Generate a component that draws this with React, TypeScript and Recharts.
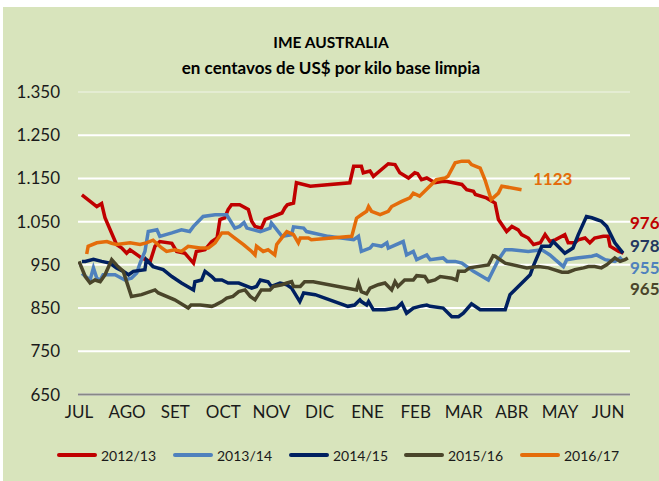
import React from 'react';
import { LineChart, Line, XAxis, YAxis, CartesianGrid, ReferenceLine } from 'recharts';

const MONTHS = ['JUL', 'AGO', 'SET', 'OCT', 'NOV', 'DIC', 'ENE', 'FEB', 'MAR', 'ABR', 'MAY', 'JUN'];
const MONTH_TICKS = [0, 1, 2, 3, 4, 5, 6, 7, 8, 9, 10, 11];
const Y_TICKS = [650, 750, 850, 950, 1050, 1150, 1250, 1350];

// [month position, value]
const S_2012_13: [number, number][] = [
  [0.06, 1112], [0.37, 1085], [0.47, 1092], [0.54, 1059], [0.78, 997], [0.89, 989], [0.99, 977], [1.06, 985],
  [1.3, 966], [1.48, 958], [1.58, 993], [1.68, 1004], [1.93, 1000], [2.03, 981], [2.2, 977], [2.38, 954],
  [2.44, 981], [2.62, 985], [2.76, 1004], [2.87, 1012], [2.93, 1055], [3.03, 1059], [3.1, 1078], [3.17, 1089],
  [3.34, 1089], [3.52, 1078], [3.59, 1051], [3.66, 1039], [3.79, 1035], [3.87, 1055], [4.04, 1062], [4.22, 1070],
  [4.28, 1082], [4.33, 1089], [4.46, 1093], [4.52, 1140], [4.81, 1132], [5.63, 1140], [5.71, 1178], [5.87, 1178],
  [5.91, 1163], [6.05, 1167], [6.12, 1155], [6.43, 1184], [6.57, 1182], [6.67, 1163], [6.85, 1151], [6.98, 1163],
  [7.04, 1161], [7.12, 1147], [7.23, 1151], [7.4, 1140], [7.54, 1143], [7.65, 1143], [7.78, 1140], [7.96, 1136],
  [8.06, 1124], [8.2, 1120], [8.24, 1113], [8.47, 1105], [8.65, 1093], [8.72, 1055], [8.89, 1027], [9.0, 1039],
  [9.13, 1031], [9.2, 1020], [9.34, 1012], [9.45, 997], [9.59, 1001], [9.69, 1020], [9.79, 1004], [9.9, 1008],
  [10.1, 1020], [10.17, 1001], [10.31, 1001], [10.38, 1008], [10.52, 1012], [10.62, 1001], [10.72, 1012],
  [10.9, 1016], [11.0, 1016], [11.04, 993], [11.22, 981], [11.32, 977],
];

const S_2013_14: [number, number][] = [
  [0.06, 930], [0.23, 915], [0.3, 943], [0.37, 919], [0.44, 915], [0.5, 927], [0.75, 927], [0.95, 915],
  [1.09, 919], [1.2, 931], [1.27, 954], [1.37, 981], [1.44, 1027], [1.62, 1031], [1.68, 1016], [1.93, 1024],
  [2.13, 1031], [2.3, 1027], [2.38, 1039], [2.58, 1062], [2.83, 1066], [3.07, 1066], [3.24, 1035], [3.34, 1039],
  [3.43, 1048], [3.49, 1035], [3.77, 1027], [3.97, 1035], [4.0, 1047], [4.22, 1016], [4.42, 1020], [4.46, 1038],
  [4.67, 1035], [4.73, 1027], [5.18, 1016], [5.71, 1008], [5.81, 1016], [5.87, 981], [6.05, 989], [6.11, 997],
  [6.29, 993], [6.4, 1001], [6.43, 989], [6.74, 1004], [6.81, 973], [6.95, 981], [7.02, 962], [7.23, 973],
  [7.3, 962], [7.57, 966], [7.65, 958], [7.82, 958], [7.96, 954], [8.2, 935], [8.51, 915], [8.72, 962],
  [8.86, 985], [9.0, 985], [9.34, 981], [9.62, 985], [9.79, 973], [9.9, 962], [10.07, 946], [10.14, 962],
  [10.35, 966], [10.66, 970], [10.76, 973], [10.94, 962], [11.14, 958], [11.25, 966], [11.31, 958],
];

const S_2014_15: [number, number][] = [
  [0.06, 958], [0.13, 958], [0.3, 963], [0.47, 958], [0.64, 954], [0.78, 943], [0.92, 935], [1.03, 927],
  [1.13, 935], [1.37, 939], [1.4, 962], [1.54, 946], [1.75, 939], [1.93, 923], [2.13, 908], [2.38, 892],
  [2.41, 911], [2.55, 915], [2.62, 935], [2.76, 923], [2.83, 915], [2.97, 915], [3.1, 908], [3.32, 908],
  [3.59, 896], [3.69, 900], [3.77, 915], [3.93, 911], [4.0, 900], [4.18, 908], [4.32, 904], [4.42, 896],
  [4.59, 865], [4.67, 885], [4.91, 881], [5.59, 854], [5.73, 857], [5.84, 869], [5.87, 865], [5.98, 857],
  [6.02, 865], [6.12, 846], [6.36, 846], [6.61, 850], [6.71, 861], [6.81, 838], [6.95, 850], [7.12, 855],
  [7.23, 857], [7.3, 854], [7.57, 850], [7.75, 830], [7.89, 830], [7.99, 838], [8.16, 860], [8.34, 846],
  [8.86, 846], [8.96, 881], [9.38, 927], [9.44, 946], [9.62, 993], [9.79, 993], [9.86, 1004], [10.1, 977],
  [10.27, 989], [10.38, 1020], [10.55, 1062], [10.66, 1059], [10.76, 1055], [10.86, 1051], [10.97, 1039],
  [11.14, 1001], [11.31, 977],
];

const S_2015_16: [number, number][] = [
  [0.0, 958], [0.13, 923], [0.23, 908], [0.33, 915], [0.44, 911], [0.54, 927], [0.68, 962], [0.81, 946],
  [0.92, 935], [1.09, 877], [1.3, 881], [1.58, 892], [1.65, 885], [1.99, 869], [2.27, 850], [2.33, 857],
  [2.52, 857], [2.76, 854], [2.83, 857], [2.97, 865], [3.07, 873], [3.2, 877], [3.32, 888], [3.45, 892],
  [3.56, 877], [3.66, 869], [3.79, 892], [3.97, 892], [4.04, 900], [4.22, 904], [4.32, 908], [4.42, 911],
  [4.46, 900], [4.6, 900], [4.69, 911], [4.87, 911], [5.77, 892], [5.81, 908], [5.87, 888], [5.98, 883],
  [6.05, 896], [6.22, 904], [6.36, 908], [6.5, 892], [6.57, 911], [6.63, 900], [6.77, 915], [6.95, 915],
  [7.02, 925], [7.19, 923], [7.26, 911], [7.4, 915], [7.51, 923], [7.75, 919], [7.85, 915], [7.89, 935],
  [8.02, 935], [8.12, 943], [8.51, 950], [8.61, 971], [8.65, 970], [8.86, 954], [9.31, 943], [9.55, 946],
  [9.76, 943], [10.04, 933], [10.17, 933], [10.31, 939], [10.49, 943], [10.59, 946], [10.72, 946],
  [10.86, 943], [10.97, 950], [11.14, 966], [11.25, 958], [11.35, 962], [11.41, 966],
];

const S_2016_17: [number, number][] = [
  [0.16, 975], [0.19, 993], [0.37, 1001], [0.58, 1004], [0.68, 1000], [0.78, 997], [1.06, 1001], [1.27, 997],
  [1.4, 1001], [1.54, 1007], [1.72, 989], [1.82, 981], [1.99, 985], [2.13, 981], [2.27, 993], [2.52, 989],
  [2.69, 989], [2.83, 1001], [2.97, 1024], [3.1, 1024], [3.24, 1012], [3.42, 997], [3.59, 981], [3.66, 973],
  [3.69, 993], [3.83, 981], [3.93, 985], [4.07, 973], [4.11, 997], [4.24, 1016], [4.32, 1027], [4.46, 1020],
  [4.56, 1001], [4.6, 1012], [4.77, 1012], [4.83, 1008], [5.67, 1016], [5.77, 1058], [5.87, 1066], [5.98, 1074],
  [6.02, 1085], [6.08, 1074], [6.26, 1066], [6.43, 1074], [6.5, 1085], [6.71, 1097], [6.88, 1105], [6.95, 1116],
  [7.08, 1109], [7.43, 1147], [7.61, 1151], [7.67, 1155], [7.82, 1186], [7.96, 1190], [8.1, 1190], [8.16, 1182],
  [8.34, 1174], [8.44, 1147], [8.57, 1101], [8.72, 1116], [8.79, 1132], [9.2, 1124],
];

const SERIES_NAMES = ['2012/13', '2013/14', '2014/15', '2015/16', '2016/17'];
const SERIES_COLORS = ['#c00000', '#4f81bd', '#002060', '#4a452a', '#e46c0a'];
const SERIES_DATA = [S_2012_13, S_2013_14, S_2014_15, S_2015_16, S_2016_17];

const END_LABELS = ['976', '955', '978', '965', '1123'];
const END_LABEL_COLORS = ['#c00000', '#4f81bd', '#24375f', '#4a452a', '#e46c0a'];
const END_LABEL_POS = [
  { left: 627, top: 216 },
  { left: 627, top: 260.5 },
  { left: 627, top: 239 },
  { left: 627, top: 282 },
  { left: 530, top: 172 },
];

const LEGEND_LEFT = [54, 170, 286, 401, 517];

const fmtY = (v: number) => (v >= 1000 ? `${Math.floor(v / 1000)}.${String(v % 1000).padStart(3, '0')}` : String(v));

export default function App() {
  const font = 'Lato, "Open Sans", sans-serif';
  return (
    <div
      style={{
        position: 'absolute',
        left: 3,
        top: 7,
        width: 656,
        height: 474,
        background: '#d8e4bc',
        fontFamily: font,
        overflow: 'hidden',
      }}
    >
      <div
        style={{
          position: 'absolute',
          left: 0,
          top: 22,
          width: '100%',
          textAlign: 'center',
          fontWeight: 700,
          lineHeight: '26px',
          color: '#000',
        }}
      >
        <div style={{ fontSize: 15.5 }}>IME AUSTRALIA</div>
        <div style={{ fontSize: 17 }}>en centavos de US$ por kilo base limpia</div>
      </div>
      <div style={{ position: 'absolute', left: 0, top: 0 }}>
        <LineChart width={656} height={474} margin={{ top: 85, right: 29, bottom: 56.5, left: 0 }}>
          <CartesianGrid horizontal vertical={false} stroke="#ffffff" strokeWidth={2} />
          <ReferenceLine y={1350} stroke="#e4ecd2" strokeWidth={2} />
          <XAxis
            type="number"
            dataKey="x"
            domain={[-0.021, 11.455]}
            ticks={MONTH_TICKS}
            interval={0}
            allowDataOverflow
            tickFormatter={(v: number) => MONTHS[v]}
            axisLine={{ stroke: '#878787', strokeWidth: 2 }}
            tickLine={false}
            tickSize={0}
            tickMargin={11}
            height={30}
            tick={{ fill: '#1a1a1a', fontSize: 17, fontFamily: font }}
          />
          <YAxis
            type="number"
            domain={[650, 1350]}
            ticks={Y_TICKS}
            interval={0}
            tickFormatter={fmtY}
            axisLine={false}
            tickLine={false}
            tickSize={0}
            tickMargin={18}
            width={75}
            tick={{ fill: '#1a1a1a', fontSize: 17, fontFamily: font }}
          />
          {SERIES_DATA.map((s, i) => (
            <Line
              key={SERIES_NAMES[i]}
              name={SERIES_NAMES[i]}
              data={s.map(([x, v]) => ({ x, v }))}
              dataKey="v"
              type="linear"
              stroke={SERIES_COLORS[i]}
              strokeWidth={3.5}
              dot={false}
              activeDot={false}
              isAnimationActive={false}
            />
          ))}
        </LineChart>
      </div>
      {END_LABELS.map((t, i) => (
        <div
          key={t}
          style={{
            position: 'absolute',
            left: END_LABEL_POS[i].left,
            top: END_LABEL_POS[i].top - 11,
            height: 22,
            lineHeight: '22px',
            fontSize: 17,
            fontWeight: 700,
            color: END_LABEL_COLORS[i],
            whiteSpace: 'nowrap',
          }}
        >
          {t}
        </div>
      ))}
      {SERIES_NAMES.map((n, i) => (
        <div
          key={n}
          style={{
            position: 'absolute',
            left: LEGEND_LEFT[i],
            top: 448 - 10,
            height: 20,
            display: 'flex',
            alignItems: 'center',
            fontSize: 14,
            color: '#1a1a1a',
            whiteSpace: 'nowrap',
          }}
        >
          <span style={{ display: 'inline-block', width: 40, height: 4, borderRadius: 2, background: SERIES_COLORS[i], marginRight: 4 }} />
          {n}
        </div>
      ))}
    </div>
  );
}
